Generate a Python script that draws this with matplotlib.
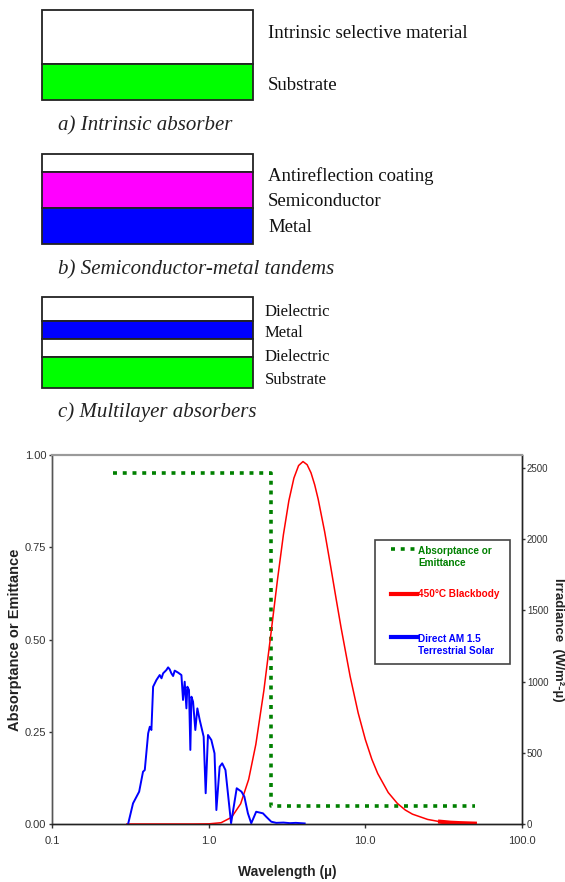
import matplotlib
matplotlib.use("Agg")
import matplotlib.pyplot as plt
from matplotlib.patches import Rectangle
from matplotlib.lines import Line2D
from matplotlib.ticker import FixedLocator, NullLocator, FixedFormatter

# --- layer stacks for the three absorber sketches (top layer first) ---
a_colors = ["white", "#00ff00"]
a_labels = ["Intrinsic selective material", "Substrate"]
b_colors = ["white", "#ff00ff", "#0000ff"]
b_labels = ["Antireflection coating", "Semiconductor", "Metal"]
c_colors = ["white", "#0000ff", "white", "#00ff00"]
c_labels = ["Dielectric", "Metal", "Dielectric", "Substrate"]
captions = ["a) Intrinsic absorber", "b) Semiconductor-metal tandems",
            "c) Multilayer absorbers"]

# --- chart data ---
# ideal selective absorber (left axis)
abs_wl = [0.245, 2.5, 2.5, 50]
abs_val = [0.95, 0.95, 0.05, 0.05]

# 450C blackbody, W/m2-um (right axis)
bb_wl = [0.3, 0.5, 0.8, 1.0, 1.2, 1.4, 1.6, 1.8, 2.0, 2.25, 2.5, 2.75, 3.0,
         3.25, 3.5, 3.75, 4.0, 4.25, 4.5, 4.75, 5.0, 5.5, 6.0, 6.5, 7.0, 8.0,
         9.0, 10, 11, 12, 14, 16, 18, 20, 25, 30, 35, 40, 50]
bb_irr = [0, 0, 0, 1, 9, 47, 142, 313, 559, 936, 1341, 1716, 2032,
          2270, 2429, 2517, 2545, 2523, 2466, 2382, 2281, 2052, 1812, 1585, 1379, 1036,
          780, 593, 455, 354, 221, 145, 98, 69, 32, 16, 9, 6, 2.5]

# direct AM1.5 terrestrial solar spectrum, W/m2-um (right axis)
solar_wl = [0.306, 0.329, 0.360, 0.381, 0.391, 0.411, 0.421, 0.431, 0.442, 0.464,
            0.487, 0.500, 0.512, 0.537, 0.551, 0.564, 0.578, 0.593, 0.607, 0.638,
            0.670, 0.686, 0.703, 0.721, 0.731, 0.749, 0.764, 0.776, 0.795, 0.822,
            0.847, 0.877, 0.929, 0.957, 0.990, 1.04, 1.09, 1.12, 1.175, 1.22,
            1.28, 1.39, 1.51, 1.62, 1.69, 1.78, 1.87, 2.01, 2.22, 2.33,
            2.51, 2.7, 3.0, 3.3, 3.6, 4.1]
solar_irr = [0, 145, 227, 367, 379, 637, 683, 660, 964, 1011,
             1046, 1023, 1058, 1081, 1100, 1086, 1058, 1039, 1077, 1063,
             1046, 871, 999, 812, 964, 941, 520, 894, 859, 660,
             812, 730, 613, 216, 625, 590, 496, 98, 402, 426,
             379, 5, 251, 227, 192, 75, 5, 86, 75, 51,
             16, 8, 10, 6, 8, 4]

x_ticks = [0.1, 1, 10, 100]
x_ticklabels = ["0.1", "1.0", "10.0", "100.0"]
left_ticks = [0, 0.25, 0.5, 0.75, 1.0]
right_ticks = [0, 500, 1000, 1500, 2000, 2500]

W, H = 565, 882
SERIF = ["Liberation Serif", "DejaVu Serif"]
SANS = ["Liberation Sans", "DejaVu Sans"]

fig = plt.figure(figsize=(W / 100, H / 100), dpi=100)
fig.patch.set_facecolor("white")


def fx(px):
    return px / W


def fy(py):
    return 1 - py / H


# sketches drawn in a full-figure pixel canvas
sk = fig.add_axes([0, 0, 1, 1])
sk.set_xlim(0, W)
sk.set_ylim(H, 0)
sk.axis("off")

sketches = [
    (a_colors, a_labels, [10, 64, 100], [33, 85], 268, 13.5, 126),
    (b_colors, b_labels, [154, 172, 208, 244], [176, 202, 228], 268, 13.5, 270),
    (c_colors, c_labels, [297, 321, 339, 357, 388], [312, 333, 357, 380], 265, 12, 412),
]
for (colors, labels, edges, label_y, label_x, fs, cap_y), cap in zip(sketches, captions):
    for i, col in enumerate(colors):
        sk.add_patch(Rectangle((42, edges[i]), 211, edges[i + 1] - edges[i],
                               facecolor=col, edgecolor="#222222", lw=1.3))
    for lab, y in zip(labels, label_y):
        sk.text(label_x, y, lab, family=SERIF, fontsize=fs, color="#111111",
                ha="left", va="center")
    sk.text(58, cap_y, cap, family=SERIF, style="italic", fontsize=15,
            color="#222222", ha="left", va="center")

# --- spectral chart ---
ax = fig.add_axes([fx(52), fy(824), fx(522) - fx(52), fy(455) - fy(824)])
ax.set_zorder(1)
ax.set_xscale("log")
ax.set_xlim(0.1, 100)
ax.set_ylim(0, 1.0)
ax.plot(abs_wl, abs_val, color="#008000", lw=2.6, dashes=(1.1, 1.6),
        dash_capstyle="butt", solid_joinstyle="miter")

ax2 = ax.twinx()
ax2.set_ylim(0, 2591)
ax2.plot(bb_wl, bb_irr, color="#ff0000", lw=1.1)
ax2.plot(bb_wl[-4:], bb_irr[-4:], color="#ff0000", lw=3)
ax2.plot(solar_wl, solar_irr, color="#0000ff", lw=1.4)

ax.xaxis.set_major_locator(FixedLocator(x_ticks))
ax.xaxis.set_major_formatter(FixedFormatter(x_ticklabels))
ax.xaxis.set_minor_locator(NullLocator())
ax.set_yticks(left_ticks)
ax.set_yticklabels([f"{v:.2f}" for v in left_ticks])
ax2.set_yticks(right_ticks)
ax2.set_yticklabels([str(v) for v in right_ticks])

ax.tick_params(axis="x", length=3, width=1, pad=5.5, colors="#333333", labelsize=8)
ax.tick_params(axis="y", length=2.5, width=1, pad=1.5, colors="#333333", labelsize=8)
ax2.tick_params(axis="y", length=2, width=1, pad=1.5, colors="#333333", labelsize=7)
for lab in ax.get_xticklabels() + ax.get_yticklabels() + ax2.get_yticklabels():
    lab.set_family(SANS)

for a in (ax, ax2):
    a.spines["left"].set_color("#555555")
    a.spines["bottom"].set_color("#222222")
    a.spines["right"].set_color("#222222")
    for s in a.spines.values():
        s.set_linewidth(1.0)
    a.spines["top"].set_color("#9a9a9a")
    a.spines["top"].set_linewidth(1.5)

fig.text(fx(287), fy(872), "Wavelength (µ)", family=SANS, fontweight="bold",
         fontsize=10, color="#222222", ha="center", va="center")
fig.text(fx(15), fy(640), "Absorptance or Emittance", family=SANS,
         fontweight="bold", fontsize=10.5, color="#222222", rotation=90,
         ha="center", va="center")
fig.text(fx(557.5), fy(640), "Irradiance  (W/m²-µ)", family=SANS,
         fontweight="bold", fontsize=9.5, color="#222222", rotation=270,
         ha="center", va="center")

# legend box
fig.add_artist(Rectangle((fx(375), fy(664)), fx(510) - fx(375), fy(540) - fy(664),
                         transform=fig.transFigure, facecolor="white",
                         edgecolor="#444444", lw=1.2, zorder=5))
fig.add_artist(Line2D([fx(391), fx(415)], [fy(549), fy(549)], transform=fig.transFigure,
                      color="#008000", lw=2.6, dashes=(1.1, 1.6),
                      dash_capstyle="butt", zorder=6))
fig.add_artist(Line2D([fx(391), fx(417)], [fy(594), fy(594)], transform=fig.transFigure,
                      color="#ff0000", lw=3, zorder=6))
fig.add_artist(Line2D([fx(391), fx(417)], [fy(637), fy(637)], transform=fig.transFigure,
                      color="#0000ff", lw=3, zorder=6))
legend_text = [("Absorptance or\nEmittance", "#008000", 557),
               ("450°C Blackbody", "#ff0000", 594),
               ("Direct AM 1.5\nTerrestrial Solar", "#0000ff", 645)]
for txt, col, y in legend_text:
    fig.text(fx(418), fy(y), txt, family=SANS, fontweight="bold", fontsize=7.2,
             color=col, ha="left", va="center", linespacing=1.3, zorder=7)

fig.savefig("out.png", dpi=100)
